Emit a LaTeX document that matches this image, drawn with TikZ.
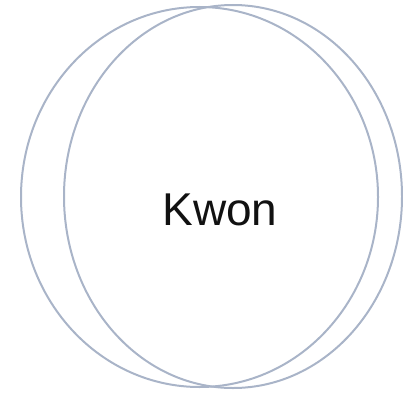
\documentclass[tikz,border=0pt]{standalone}
\usepackage{fontspec}
\usetikzlibrary{shapes.geometric}
\newfontfamily\labelfont{Liberation Sans}
\definecolor{ringB}{HTML}{A9B4C8}
\definecolor{ink}{HTML}{111111}
\tikzset{
  ringline/.style={ellipse, draw=ringB, line width=2pt, inner sep=0pt},
  biglabel/.style={font=\labelfont\fontsize{46}{50}\selectfont, text=ink}
}

\begin{document}
\begin{tikzpicture}[x=1pt,y=1pt]
\useasboundingbox (0,0) rectangle (403,392);

\node[ringline, minimum width=357pt, minimum height=380pt] (left) at (199.5,195) {};
\node[ringline, minimum width=338pt, minimum height=383pt] (right) at (233,195.5) {};

\node[biglabel] (kwon) at (220,182) {Kwon};

\end{tikzpicture}
\end{document}
